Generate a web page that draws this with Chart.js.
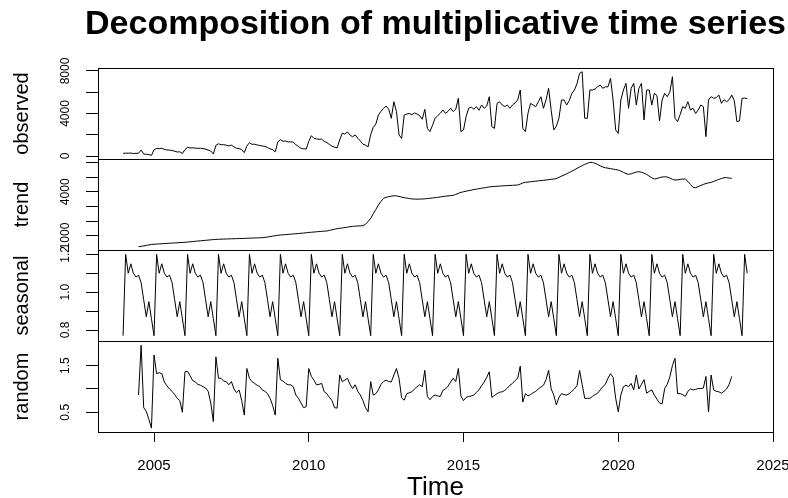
<!DOCTYPE html>
<html lang="en">
<head>
<meta charset="UTF-8">
<title>Decomposition of multiplicative time series</title>
<script src="https://cdn.jsdelivr.net/npm/chart.js@4.4.1/dist/chart.umd.min.js"></script>
<style>
  body { margin: 0; background: #fff; }
  canvas { display: block; }
</style>
</head>
<body>
<canvas id="decomp" width="788" height="498"></canvas>
<script>
// monthly series, Jan 2004 - Mar 2024
var startYear = 2004;
var frequency = 12;
var mainTitle = 'Decomposition of multiplicative time series';

var observed = [
  250, 270, 260, 280, 230, 250, 260, 560, 190, 163, 131, 59,
  586, 721, 688, 727, 615, 574, 554, 518, 448, 377, 393, 242,
  604, 820, 760, 770, 740, 720, 730, 700, 640, 560, 470, 195,
  1002, 1148, 1062, 1066, 1018, 946, 1024, 856, 724, 704, 593, 317,
  937, 1258, 1097, 1115, 1037, 998, 945, 903, 804, 668, 611, 386,
  1342, 1534, 1390, 1410, 1331, 1324, 1305, 1055, 899, 722, 684, 650,
  1375, 1913, 1662, 1611, 1573, 1591, 1363, 1266, 1086, 927, 832, 761,
  1522, 2151, 2055, 2263, 1972, 1805, 1984, 1676, 1407, 1109, 1026, 864,
  2000, 2700, 3000, 3860, 4200, 4490, 4700, 4400, 3550, 5110, 4200, 1980,
  1660, 3860, 3950, 4000, 3900, 4050, 3950, 3800, 3460, 4390, 2600, 2300,
  2900, 3550, 3800, 4020, 4330, 4020, 4200, 4490, 4180, 4400, 5430, 2290,
  2450, 3700, 4490, 4600, 4400, 4640, 4300, 4800, 4490, 4700, 5580, 2760,
  2600, 4960, 5100, 4800, 4650, 4800, 4490, 4800, 5000, 5270, 6210, 2600,
  2290, 4020, 4950, 4800, 4640, 5100, 5580, 4490, 5270, 6370, 4300, 2450,
  2800, 3550, 5270, 5270, 4800, 5200, 5900, 6210, 6800, 7780, 7930, 3550,
  3550, 6210, 6210, 6300, 6520, 6680, 6370, 6520, 6500, 7310, 5270, 2450,
  2130, 5270, 6210, 6840, 4490, 6370, 6840, 4800, 6370, 6840, 3400, 6210,
  6210, 4800, 5900, 5700, 3300, 5270, 5900, 5580, 6000, 7460, 3550, 3240,
  3900, 4640, 4490, 5110, 4330, 4500, 4000, 4330, 4800, 4640, 1820, 5270,
  5580, 5430, 5500, 5740, 4960, 5300, 5100, 5300, 5740, 5200, 3230, 3300,
  5430, 5450, 5400
];

// centred moving average: starts Jul 2004, ends Sep 2023
var trend = [
  274, 300, 330, 360, 395, 430,
  440, 452, 463, 475, 486, 497, 508, 519, 530, 541, 552, 563,
  573, 590, 607, 624, 640, 657, 673, 690, 707, 723, 740, 755,
  770, 778, 785, 792, 798, 804, 810, 815, 820, 826, 832, 838,
  845, 852, 860, 866, 873, 880, 885, 905, 930, 960, 990, 1020,
  1050, 1065, 1080, 1095, 1110, 1125, 1140, 1155, 1170, 1185, 1200, 1220,
  1240, 1255, 1270, 1285, 1300, 1315, 1330, 1340, 1380, 1420, 1460, 1500,
  1520, 1545, 1570, 1600, 1630, 1655, 1670, 1680, 1685, 1700, 1800, 1970,
  2200, 2500, 2800, 3100, 3350, 3556, 3620, 3670, 3700, 3730, 3720, 3680,
  3640, 3600, 3570, 3540, 3515, 3505, 3500, 3505, 3510, 3520, 3540, 3556,
  3580, 3600, 3625, 3650, 3680, 3700, 3720, 3735, 3760, 3820, 3890, 3960,
  4000, 4040, 4080, 4110, 4150, 4180, 4210, 4240, 4270, 4300, 4330, 4350,
  4360, 4375, 4390, 4400, 4410, 4420, 4430, 4440, 4450, 4460, 4520, 4600,
  4640, 4660, 4680, 4700, 4720, 4740, 4760, 4780, 4800, 4820, 4845, 4865,
  4900, 4980, 5060, 5136, 5220, 5310, 5400, 5490, 5590, 5680, 5770, 5860,
  5930, 5997, 5990, 5930, 5850, 5760, 5680, 5630, 5600, 5570, 5540, 5500,
  5475, 5400, 5320, 5230, 5183, 5220, 5280, 5340, 5360, 5330, 5260, 5180,
  5060, 4950, 4865, 4900, 4960, 5000, 5021, 5000, 4930, 4850, 4797, 4810,
  4840, 4860, 4865, 4700, 4500, 4300, 4275, 4350, 4430, 4500, 4560, 4600,
  4641, 4700, 4770, 4840, 4900, 4953, 4960, 4930, 4912
];

// Jan .. Dec
var seasonalFigure = [0.77, 1.20, 1.10, 1.15, 1.10, 1.08, 1.09, 1.05, 0.96, 0.87, 0.95, 0.86];

var random = [
  0.87, 1.94, 0.60, 0.52, 0.35, 0.16,
  1.73, 1.33, 1.35, 1.33, 1.15, 1.07, 1.00, 0.95, 0.88, 0.80, 0.75, 0.50,
  1.37, 1.38, 1.28, 1.18, 1.15, 1.10, 1.08, 1.05, 1.02, 0.95, 0.70, 0.30,
  1.69, 1.23, 1.23, 1.17, 1.16, 1.09, 1.16, 1.00, 0.92, 0.98, 0.75, 0.44,
  1.44, 1.23, 1.16, 1.12, 1.08, 1.05, 0.98, 0.95, 0.90, 0.80, 0.65, 0.44,
  1.66, 1.20, 1.17, 1.12, 1.09, 1.09, 1.05, 0.87, 0.80, 0.70, 0.60, 0.62,
  1.44, 1.27, 1.19, 1.09, 1.10, 1.12, 0.94, 0.90, 0.82, 0.75, 0.60, 0.59,
  1.30, 1.16, 1.19, 1.23, 1.10, 1.01, 1.09, 0.95, 0.87, 0.75, 0.60, 0.51,
  1.16, 0.87, 0.90, 0.98, 1.10, 1.16, 1.19, 1.16, 1.15, 1.30, 1.44, 1.23,
  0.81, 0.76, 0.90, 0.92, 0.94, 1.00, 1.05, 1.09, 1.05, 1.40, 0.84, 0.77,
  0.84, 0.87, 0.85, 0.84, 0.97, 1.00, 1.06, 1.15, 1.23, 1.16, 1.44, 0.85,
  0.75, 0.82, 0.84, 0.85, 0.87, 0.93, 0.98, 1.07, 1.15, 1.25, 1.37, 0.82,
  0.86, 0.90, 0.93, 0.94, 0.97, 1.02, 1.08, 1.12, 1.18, 1.23, 1.49, 0.72,
  0.90, 0.85, 0.88, 0.92, 0.95, 1.00, 1.04, 1.08, 1.20, 1.40, 1.00, 0.87,
  0.66, 0.82, 0.90, 0.88, 0.87, 0.90, 0.95, 1.00, 1.07, 1.40, 1.10, 0.80,
  0.80, 0.80, 0.84, 0.88, 0.91, 0.98, 1.05, 1.10, 1.23, 1.33, 1.25, 0.80,
  0.51, 0.87, 1.05, 1.08, 1.05, 1.12, 0.98, 1.30, 1.00, 1.10, 1.20, 0.91,
  0.95, 0.98, 0.87, 0.78, 0.70, 0.68, 1.01, 1.10, 1.26, 1.50, 1.66, 0.90,
  0.90, 0.88, 0.84, 0.95, 1.00, 0.98, 0.99, 1.01, 1.01, 1.02, 1.27, 0.51,
  1.30, 0.98, 0.95, 0.94, 0.91, 0.95, 1.00, 1.10, 1.27
];

var yearTicks = [2005, 2010, 2015, 2020, 2025];
var observedTicks = [0, 2000, 4000, 6000, 8000];
var observedTickText = ['0', '', '4000', '', '8000'];
var trendTicks = [1000, 2000, 3000, 4000, 5000, 6000];
var trendTickText = ['1000', '', '', '4000', '', ''];
var seasonalTicks = [0.8, 0.9, 1.0, 1.1, 1.2];
var seasonalTickText = ['0.8', '', '1.0', '', '1.2'];
var randomTicks = [0.5, 1.0, 1.5];
var randomTickText = ['0.5', '', '1.5'];

var FONT = '"Liberation Sans", Arial, Helvetica, sans-serif';

function toPoints(values, offset) {
  var pts = [];
  for (var i = 0; i < values.length; i++) {
    pts.push({ x: startYear + (i + offset) / frequency, y: values[i] });
  }
  return pts;
}

var seasonal = [];
for (var i = 0; i < observed.length; i++) {
  seasonal.push(seasonalFigure[i % frequency]);
}

function panelAxis(name, min, max, ticks, tickText, padding) {
  return {
    type: 'linear',
    position: 'left',
    stack: 'panels',
    stackWeight: 1,
    min: min,
    max: max,
    afterBuildTicks: function (axis) {
      axis.ticks = ticks.map(function (v) { return { value: v }; });
    },
    afterFit: function (axis) { axis.width = 98; },
    ticks: {
      autoSkip: false,
      minRotation: 90,
      maxRotation: 90,
      crossAlign: 'center',
      padding: padding,
      color: '#000',
      font: { family: FONT, size: 12 },
      callback: function (value, index) { return tickText[index]; }
    },
    grid: { drawOnChartArea: false, drawTicks: true, tickLength: 12, color: '#000', lineWidth: 1 },
    border: { display: false },
    title: {
      display: true,
      text: name,
      color: '#000',
      font: { family: FONT, size: 20 },
      padding: { top: 10, bottom: 0 }
    }
  };
}

// box round every panel, like R draws them, and the main title over the plot region
var panelBoxes = {
  id: 'panelBoxes',
  afterDraw: function (chart) {
    var ctx = chart.ctx;
    var area = chart.chartArea;
    ctx.save();
    ctx.strokeStyle = '#000';
    ctx.lineWidth = 1;
    ['yObs', 'yTrend', 'ySeas', 'yRand'].forEach(function (id) {
      var s = chart.scales[id];
      ctx.strokeRect(Math.round(area.left) + 0.5, Math.round(s.top) + 0.5,
        Math.round(area.right - area.left), Math.round(s.bottom - s.top));
    });
    ctx.fillStyle = '#000';
    ctx.font = 'bold 34px ' + FONT;
    ctx.textAlign = 'center';
    ctx.textBaseline = 'middle';
    ctx.fillText(mainTitle, (area.left + area.right) / 2, 25);
    ctx.restore();
  }
};

function line(points, axisId) {
  return {
    data: points,
    yAxisID: axisId,
    borderColor: '#000',
    borderWidth: 1,
    pointRadius: 0,
    fill: false,
    tension: 0
  };
}

new Chart(document.getElementById('decomp'), {
  type: 'line',
  data: {
    datasets: [
      line(toPoints(observed, 0), 'yObs'),
      line(toPoints(trend, 6), 'yTrend'),
      line(toPoints(seasonal, 0), 'ySeas'),
      line(toPoints(random, 6), 'yRand')
    ]
  },
  options: {
    responsive: false,
    animation: false,
    devicePixelRatio: 1,
    layout: { padding: { left: 0, right: 15, top: 68, bottom: 0 } },
    plugins: {
      legend: { display: false },
      tooltip: { enabled: false },
      title: { display: false }
    },
    scales: {
      x: {
        type: 'linear',
        min: 2003.19,
        max: 2025,
        afterBuildTicks: function (axis) {
          axis.ticks = yearTicks.map(function (v) { return { value: v }; });
        },
        afterFit: function (axis) {
          axis.height = 66;
          axis.paddingLeft = 0;
          axis.paddingRight = 0;
        },
        ticks: {
          autoSkip: false,
          maxRotation: 0,
          padding: 15,
          color: '#000',
          font: { family: FONT, size: 15 },
          callback: function (value) { return String(value); }
        },
        grid: { drawOnChartArea: false, drawTicks: true, tickLength: 10, color: '#000' },
        border: { display: false },
        title: {
          display: true,
          text: 'Time',
          color: '#000',
          font: { family: FONT, size: 26, lineHeight: 0.8 },
          padding: { top: 0, bottom: 0 }
        }
      },
      // stacked panels are laid out bottom first
      yRand: panelAxis('random', 0.077, 2.03, randomTicks, randomTickText, 12),
      ySeas: panelAxis('seasonal', 0.742, 1.223, seasonalTicks, seasonalTickText, 12),
      yTrend: panelAxis('trend', 50, 6224, trendTicks, trendTickText, 7),
      yObs: panelAxis('observed', -282, 8282, observedTicks, observedTickText, 7)
    }
  },
  plugins: [panelBoxes]
});
</script>
</body>
</html>
